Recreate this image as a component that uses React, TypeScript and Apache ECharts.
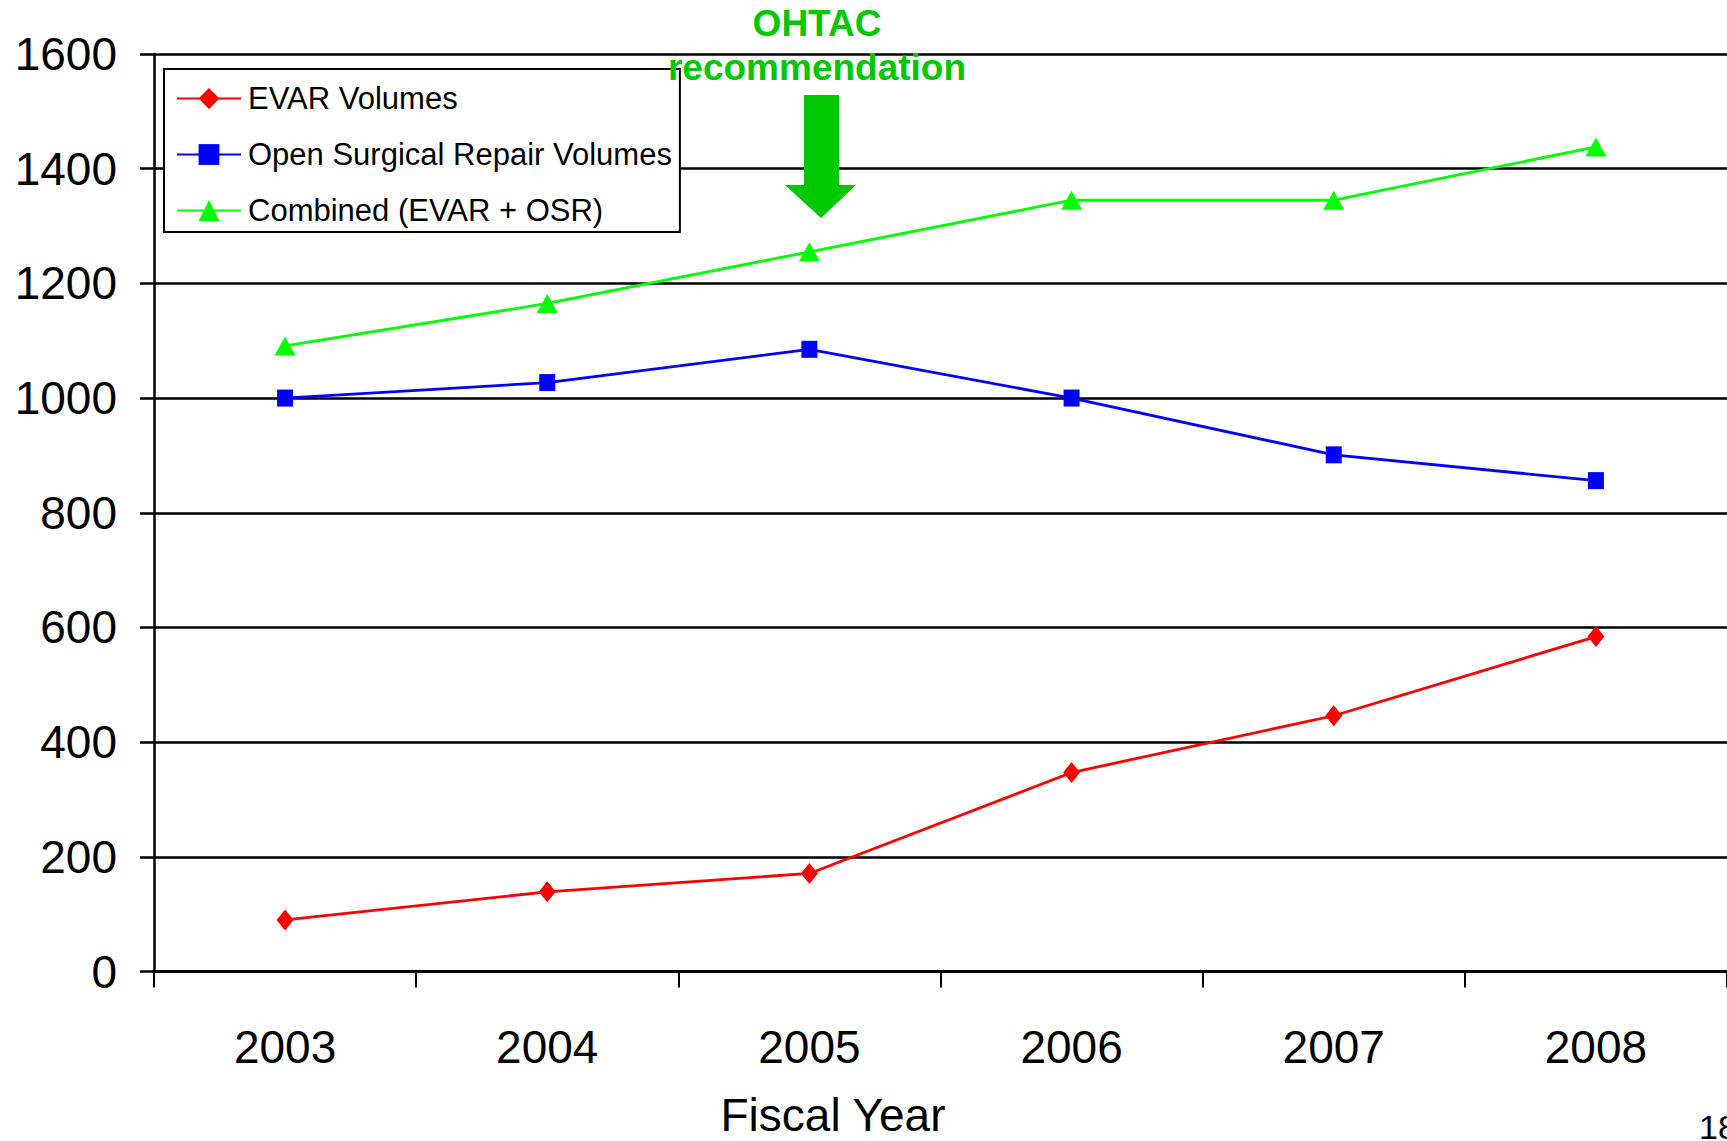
import React, { useEffect, useRef } from "react";
import * as echarts from "echarts";

// Fiscal years on the category axis
const years = ["2003", "2004", "2005", "2006", "2007", "2008"];

// Procedure volumes per fiscal year
const evarVolumes = [90, 139, 171, 347, 446, 584];
const osrVolumes = [1000, 1027, 1085, 1000, 901, 856];
const combinedVolumes = [1091, 1165, 1255, 1345, 1345, 1438];

// Value axis ticks
const yMin = 0;
const yMax = 1600;
const yStep = 200;

const seriesNames = [
  "EVAR Volumes",
  "Open Surgical Repair Volumes",
  "Combined (EVAR + OSR)",
];

const xAxisTitle = "Fiscal Year";
const annotationLines = ["OHTAC", "recommendation"];
const pageNumber = "18";

const FONT = "'Liberation Sans', Arial, Helvetica, sans-serif";
const ANNOT_GREEN = "#00c800";

export default function App() {
  const ref = useRef<HTMLDivElement>(null);

  useEffect(() => {
    if (!ref.current) return;
    const chart = echarts.init(ref.current, undefined, { renderer: "svg" });

    const lineSeries = (
      name: string,
      data: number[],
      color: string,
      symbol: string,
      symbolSize: number[]
    ) => ({
      name,
      type: "line",
      data,
      symbol,
      symbolSize,
      showAllSymbol: true,
      lineStyle: { color, width: 2.8 },
      itemStyle: { color },
      z: 3,
    });

    chart.setOption({
      animation: false,
      backgroundColor: "#ffffff",
      textStyle: { fontFamily: FONT },
      grid: { left: 154, top: 54, width: 1578, height: 917.5 },
      legend: {
        orient: "vertical",
        left: 164,
        top: 69,
        data: seriesNames,
        backgroundColor: "#ffffff",
        borderColor: "#000000",
        borderWidth: 2,
        borderRadius: 0,
        padding: [14, 8, 6, 12],
        itemWidth: 64,
        itemHeight: 26,
        itemGap: 25,
        textStyle: {
          fontFamily: FONT,
          fontSize: 31,
          color: "#000000",
          lineHeight: 30,
          padding: [0, 0, 0, 2],
        },
        z: 10,
      },
      xAxis: {
        type: "category",
        data: years,
        boundaryGap: true,
        axisLine: { show: true, lineStyle: { color: "#000000", width: 3 } },
        axisTick: {
          show: true,
          length: 16,
          alignWithLabel: false,
          lineStyle: { color: "#000000", width: 2 },
        },
        axisLabel: {
          fontFamily: FONT,
          fontSize: 46,
          color: "#000000",
          margin: 52,
        },
        splitLine: { show: false },
      },
      yAxis: {
        type: "value",
        min: yMin,
        max: yMax,
        interval: yStep,
        axisLine: { show: true, lineStyle: { color: "#000000", width: 2.5 } },
        axisTick: {
          show: true,
          length: 14,
          lineStyle: { color: "#000000", width: 2.5 },
        },
        axisLabel: {
          fontFamily: FONT,
          fontSize: 46,
          color: "#000000",
          margin: 37,
          formatter: (v: number) => String(v),
        },
        splitLine: { show: true, lineStyle: { color: "#000000", width: 2.5 } },
      },
      series: [
        lineSeries(seriesNames[0], evarVolumes, "#ff0000", "diamond", [17, 21]),
        lineSeries(seriesNames[1], osrVolumes, "#0000ff", "rect", [16, 17]),
        lineSeries(seriesNames[2], combinedVolumes, "#00ff00", "triangle", [21, 19]),
      ],
      graphic: [
        {
          type: "text",
          x: 817,
          y: 1,
          z: 20,
          style: {
            text: annotationLines.join("\n"),
            fontFamily: FONT,
            fontWeight: "bold",
            fontSize: 37,
            lineHeight: 44,
            fill: ANNOT_GREEN,
            align: "center",
            verticalAlign: "top",
          },
        },
        {
          type: "polygon",
          z: 20,
          shape: {
            points: [
              [804, 95],
              [839, 95],
              [839, 185],
              [856, 185],
              [821, 218],
              [785, 185],
              [804, 185],
            ],
          },
          style: { fill: ANNOT_GREEN },
        },
        {
          type: "text",
          x: 833,
          y: 1115,
          z: 20,
          style: {
            text: xAxisTitle,
            fontFamily: FONT,
            fontSize: 46,
            fill: "#000000",
            align: "center",
            verticalAlign: "middle",
          },
        },
        {
          type: "text",
          x: 1699,
          y: 1110,
          z: 20,
          style: {
            text: pageNumber,
            fontFamily: FONT,
            fontSize: 34,
            fill: "#000000",
          },
        },
      ],
    });

    return () => chart.dispose();
  }, []);

  return (
    <div
      ref={ref}
      style={{
        position: "fixed",
        left: 0,
        top: 0,
        width: 1727,
        height: 1141,
        background: "#ffffff",
      }}
    />
  );
}
